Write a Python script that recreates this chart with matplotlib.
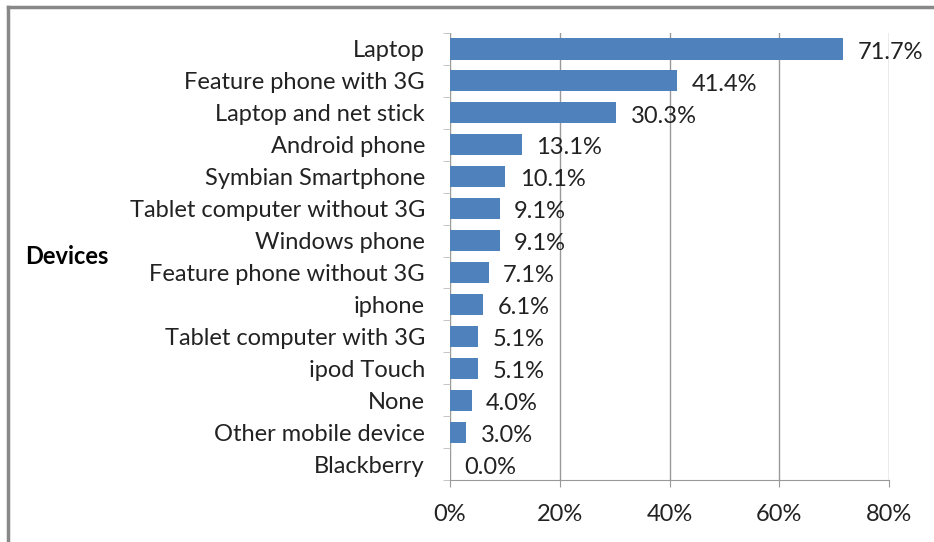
import matplotlib
matplotlib.use("Agg")
import matplotlib.pyplot as plt
from matplotlib.lines import Line2D

categories = ["Laptop", "Feature phone with 3G", "Laptop and net stick", "Android phone",
              "Symbian Smartphone", "Tablet computer without 3G", "Windows phone",
              "Feature phone without 3G", "iphone", "Tablet computer with 3G",
              "ipod Touch", "None", "Other mobile device", "Blackberry"]
values = [71.7, 41.4, 30.3, 13.1, 10.1, 9.1, 9.1, 7.1, 6.1, 5.1, 5.1, 4.0, 3.0, 0.0]
xticks = [0, 20, 40, 60, 80]
xtick_labels = ["0%", "20%", "40%", "60%", "80%"]
axis_title = "Devices"

plt.rcParams['font.family'] = ['Lato', 'DejaVu Sans']
fs = 17

fig = plt.figure(figsize=(9.34, 5.42), dpi=100)
ax = fig.add_axes([450/934, 62/542, 439/934, 447/542])

n = len(categories)
ypos = list(range(n))
ax.barh(ypos, values, height=0.66, color="#4F81BD", linewidth=0, zorder=3)
ax.set_ylim(n - 0.5, -0.5)
ax.set_xlim(0, 80)
ax.set_xticks(xticks)
ax.set_xticklabels(xtick_labels, fontsize=fs, color="#222222")
ax.set_yticks(ypos)
ax.set_yticklabels(categories, fontsize=fs, color="#222222")
ax.tick_params(axis='y', length=0, pad=18)
ax.tick_params(axis='x', length=5, color="#999999", pad=12)
ax.set_yticks([i + 0.5 for i in range(-1, n)], minor=True)
ax.tick_params(axis='y', which='minor', length=5, color="#bbbbbb", direction='out')
ax.grid(axis='x', color="#999999", linewidth=1, zorder=0)
for s in ["top", "right", "left"]:
    ax.spines[s].set_visible(False)
ax.spines["bottom"].set_color("#999999")

for y, v in zip(ypos, values):
    ax.text(v + 2.6, y + 0.1, f"{v:.1f}%", va="center", ha="left", fontsize=fs, color="#222222", zorder=4)

fig.text(25/934, 1 - 256/542, axis_title, fontsize=fs, fontweight="bold", va="center", ha="left")

# frame: only top and left edges visible (cropped screenshot)
fig.lines.append(Line2D([8/934, 1.0], [1 - 7/542, 1 - 7/542], transform=fig.transFigure,
                        color="#888888", linewidth=2.5))
fig.lines.append(Line2D([8/934, 8/934], [0.0, 1 - 7/542], transform=fig.transFigure,
                        color="#888888", linewidth=2.5))

fig.savefig("out.png", dpi=100)
